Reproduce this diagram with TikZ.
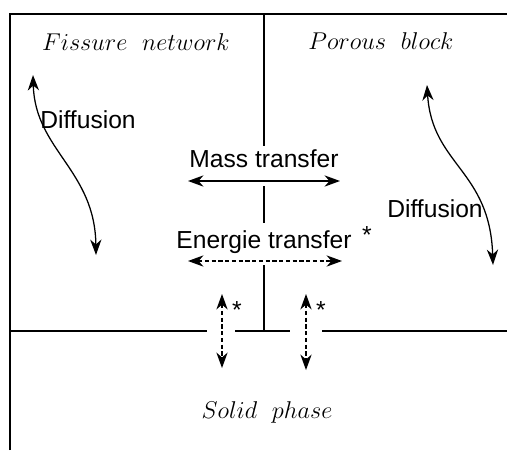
\documentclass[tikz,border=0pt]{standalone}
\usepackage{fontspec}
\setsansfont{Liberation Sans}
\usetikzlibrary{arrows.meta}

\begin{document}
\begin{tikzpicture}[x=0.025cm,y=-0.025cm,
  lbl/.style={font=\sffamily\fontsize{17.5}{20}\selectfont,anchor=base,inner sep=0pt},
  ttl/.style={font=\fontsize{17.5}{20}\selectfont,anchor=base,inner sep=0pt},
  wall/.style={line width=1.8pt},
  a/.style={{Stealth[length=11pt,width=8pt,inset=3.5pt]}-{Stealth[length=11pt,width=8pt,inset=3.5pt]},line width=0.9pt},
  ad/.style={a,dashed,dash pattern=on 3pt off 1.8pt,line width=0.75pt}]
  \useasboundingbox (0,0) rectangle (507,450);
  % walls
  \draw[wall] (10,450) -- (10,14) -- (507,14);
  \draw[wall] (264,14) -- (264,146) (264,186) -- (264,223) (264,265) -- (264,331);
  \draw[wall] (10,331) -- (207,331) (235,331) -- (290,331) (322,331) -- (507,331);
  % titles
  \node[ttl] (fis) at (136,50) {$Fissure\ \ network$};
  \node[ttl] (por) at (381,49) {$Porous\ \ block$};
  \node[ttl] (sol) at (267,418) {$Solid\ \ phase$};
  % transfers
  \node[lbl] (mass) at (264,167) {Mass transfer};
  \node[lbl] (ener) at (264,248) {Energie transfer};
  \node[lbl] (st1) at (367,243) {*};
  \coordinate (mL) at (188,181); \coordinate (mR) at (340,181);
  \coordinate (eL) at (188,261); \coordinate (eR) at (342,261);
  \draw[a] (mL) -- (mR);
  \draw[ad] (eL) -- (eR);
  % solid exchange
  \coordinate (s1t) at (222,294); \coordinate (s1b) at (222,368);
  \coordinate (s2t) at (306,294); \coordinate (s2b) at (306,370);
  \draw[ad] (s1t) -- (s1b);
  \draw[ad] (s2t) -- (s2b);
  \node[lbl] (st2) at (237,318) {*};
  \node[lbl] (st3) at (321,318) {*};
  % diffusion
  \node[lbl] (difL) at (88,128) {Diffusion};
  \node[lbl] (difR) at (435,217) {Diffusion};
  \coordinate (dLt) at (33,75); \coordinate (dLb) at (96,255);
  \coordinate (dRt) at (427,85); \coordinate (dRb) at (493,265);
  \draw[a] (dLt) .. controls (35,150) and (95,170) .. (dLb);
  \draw[a] (dRt) .. controls (432,165) and (490,170) .. (dRb);
\end{tikzpicture}
\end{document}
